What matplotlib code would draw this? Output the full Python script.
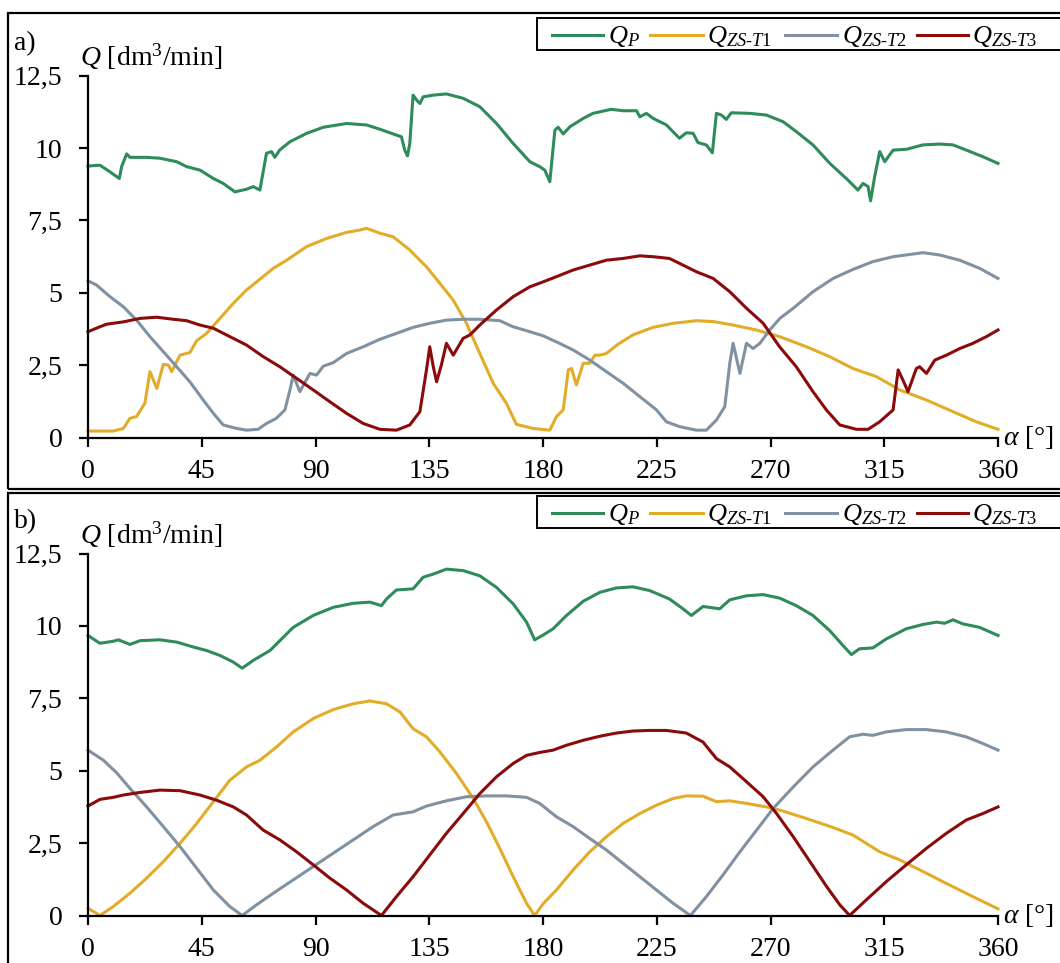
import matplotlib
matplotlib.use("Agg")
import matplotlib.pyplot as plt
from matplotlib.patches import Rectangle
from matplotlib.lines import Line2D

FONT = "Liberation Serif"
plt.rcParams["font.family"] = [FONT, "DejaVu Serif"]
plt.rcParams["mathtext.fontset"] = "custom"
plt.rcParams["mathtext.rm"] = FONT
plt.rcParams["mathtext.it"] = FONT + ":italic"

# ---------------- Panel a) data ----------------
a_p_x = [0, 4.7, 8.7, 12.4, 13.3, 15.3, 16.6, 23.2, 28.5, 35.1, 39, 44.3, 49.6, 53.5, 58.1, 62.7, 65.4, 68,
         70.6, 72.6, 73.9, 75.9, 79.9, 86.5, 93.1, 102.3, 110.2, 115.5, 122, 124, 125.3, 126.4, 127.3, 128.6,
         130, 131.3, 132.6, 136.6, 141.8, 148.4, 155, 161.6, 168.2, 174.8, 178.7, 180.7, 182.7, 184.7, 186,
         188, 190.7, 196, 199.8, 207, 211.7, 217, 218.3, 220.9, 223.5, 228.8, 234, 236.7, 239.4, 241.3, 244.6,
         247, 248.6, 250.6, 252.5, 254.5, 261.8, 268.4, 275, 280.2, 286.8, 293.5, 300, 304.6, 306.6, 308.6,
         309.6, 311.2, 313.2, 315.2, 318.5, 323.8, 330.3, 336.9, 342.2, 347.5, 354.1, 360]
a_p_y = [9.38, 9.41, 9.18, 8.95, 9.36, 9.80, 9.68, 9.68, 9.65, 9.53, 9.36, 9.24, 8.95, 8.78, 8.49, 8.58, 8.67, 8.55,
         9.82, 9.88, 9.68, 9.94, 10.22, 10.51, 10.72, 10.85, 10.80, 10.65, 10.45, 10.39, 9.93, 9.73, 10.16, 11.83,
         11.66, 11.54, 11.77, 11.83, 11.87, 11.72, 11.43, 10.85, 10.16, 9.53, 9.36, 9.24, 8.84, 10.62, 10.72,
         10.49, 10.74, 11.03, 11.20, 11.34, 11.29, 11.29, 11.08, 11.20, 11.03, 10.80, 10.34, 10.53, 10.51, 10.19, 10.11,
         9.84, 11.20, 11.14, 10.99, 11.22, 11.20, 11.14, 10.91, 10.57, 10.11, 9.47, 8.95, 8.55, 8.78, 8.67,
         8.18, 9.01, 9.88, 9.53, 9.93, 9.96, 10.11, 10.14, 10.11, 9.93, 9.70, 9.47]

a_t1_x = [0, 10, 14, 16.6, 19.2, 22.5, 24.5, 27.2, 29.8, 31.8, 33.1, 36.4, 40.3, 43, 46.9, 52.2, 57.5, 62.7, 68,
          73.3, 78.6, 86.5, 94.4, 102.3, 107.5, 110.2, 115.5, 120.7, 127.3, 133.9, 139.2, 144.5, 149.7, 155,
          160.3, 165.5, 169.5, 176.1, 182.7, 185.3, 188, 190, 191.3, 193.2, 195.9, 198.5, 200.5, 202.5, 205.1,
          209.7, 215.6, 223.5, 231.5, 240.7, 247.3, 255.2, 264.4, 273.6, 284.2, 293.4, 302.6, 311.9, 321.1,
          331.7, 342.2, 351.4, 360]
a_t1_y = [0.23, 0.23, 0.32, 0.67, 0.73, 1.19, 2.28, 1.70, 2.53, 2.51, 2.28, 2.85, 2.94, 3.35, 3.60, 4.12, 4.64, 5.10, 5.47,
          5.85, 6.13, 6.60, 6.88, 7.09, 7.17, 7.23, 7.06, 6.94, 6.48, 5.90, 5.33, 4.75, 3.95, 2.91,
          1.88, 1.19, 0.46, 0.32, 0.26, 0.73, 0.96, 2.34, 2.39, 1.82, 2.57, 2.57, 2.85, 2.85, 2.91,
          3.23, 3.55, 3.81, 3.95, 4.04, 4.01, 3.89, 3.72, 3.49, 3.14, 2.80, 2.39, 2.11, 1.65,
          1.30, 0.90, 0.55, 0.29]

a_t2_x = [0, 3.4, 8.7, 14, 19.2, 24.5, 29.8, 35.1, 40.3, 45.6, 49.6, 53.5, 58.8, 62.7, 67.3, 70.6, 74.5, 77.9, 79.9,
          81.2, 83.8, 87.8, 90.4, 93.1, 97, 102.3, 108.9, 115.5, 122, 128.6, 135.2, 141.8, 148.4, 155, 162.9,
          168.2, 174.8, 180, 185.3, 191.9, 198.5, 205.1, 211.7, 218.3, 224.9, 228.8, 234.1, 240.7, 244.6, 248.6,
          251.9, 253.9, 255.2, 257.9, 260.5, 263.1, 265.8, 269.7, 273.7, 279, 286.8, 294.8, 302.6, 310.5,
          318.5, 323.7, 330.3, 336.9, 344.8, 352.7, 360]
a_t2_y = [5.42, 5.27, 4.87, 4.52, 4.06, 3.49, 2.97, 2.45, 1.93, 1.30, 0.84, 0.44, 0.32, 0.26, 0.29, 0.49, 0.67, 0.96, 1.65,
          2.16, 1.59, 2.22, 2.16, 2.47, 2.59, 2.91, 3.14, 3.40, 3.60, 3.81, 3.95, 4.06, 4.09, 4.09, 4.04,
          3.83, 3.66, 3.52, 3.31, 3.03, 2.68, 2.28, 1.88, 1.42, 0.96, 0.55, 0.38, 0.26, 0.26, 0.61,
          1.07, 2.57, 3.26, 2.22, 3.26, 3.08, 3.26, 3.72, 4.12, 4.47, 5.04, 5.50, 5.81, 6.08,
          6.25, 6.31, 6.39, 6.31, 6.13, 5.85, 5.50]

a_t3_x = [0, 4.7, 7.4, 14, 20.6, 27.2, 33.7, 39, 44.3, 49.6, 56.1, 62.7, 69.3, 75.9, 82.5, 89.1, 95.7, 102.3, 108.9,
          115.5, 122, 127.3, 131.3, 133.9, 135.2, 136.6, 137.9, 139.8, 141.8, 144.5, 148.4, 151.1, 155, 161.6,
          168.2, 174.8, 180, 185.3, 191.9, 198.5, 205.1, 211.7, 218.3, 223.5, 230, 234, 240.7, 247.3, 253.9,
          260.5, 267.1, 273.6, 280.2, 286.8, 292.1, 297.4, 304, 308.6, 313.2, 318.5, 320.5, 322.4, 324.4,
          327.7, 329, 331.7, 335, 339.6, 344.9, 350.1, 355.4, 360]
a_t3_y = [3.66, 3.83, 3.92, 4.00, 4.12, 4.16, 4.09, 4.04, 3.89, 3.78, 3.49, 3.20, 2.80, 2.45, 2.05, 1.65, 1.24, 0.84, 0.49,
          0.29, 0.26, 0.44, 0.90, 2.34, 3.14, 2.45, 1.93, 2.51, 3.26, 2.85, 3.43, 3.55, 3.89, 4.41,
          4.87, 5.21, 5.38, 5.56, 5.79, 5.96, 6.13, 6.19, 6.28, 6.25, 6.19, 6.02, 5.73, 5.50, 5.04,
          4.47, 3.95, 3.14, 2.45, 1.59, 0.96, 0.44, 0.29, 0.29, 0.55, 0.96, 2.34, 1.99, 1.59,
          2.39, 2.45, 2.22, 2.68, 2.85, 3.08, 3.26, 3.49, 3.72]

# ---------------- Panel b) data ----------------
b_p_x = [0, 4.7, 10, 12, 16.6, 20.6, 28.5, 35.1, 41.7, 46.9, 52.2, 57.5, 61, 65.4, 68.7, 72, 75.9, 81.2, 89.1, 97,
         104.9, 111.5, 116.1, 118.1, 122, 128.6, 132.6, 136.6, 141.8, 148.4, 155, 161.6, 168.2, 173.5, 176.7,
         180, 184, 189.3, 195.9, 202.5, 209, 215.6, 222.2, 230, 235.4, 238.7, 243.3, 249.9, 253.9, 260.5,
         267.1, 273.6, 280.2, 286.8, 293.4, 298.7, 302, 305.2, 310.5, 315.8, 323.7, 330.3, 335.6, 338.9,
         342.2, 346.1, 352.7, 360]
b_p_y = [9.67, 9.40, 9.47, 9.52, 9.36, 9.49, 9.52, 9.44, 9.27, 9.15, 8.98, 8.75, 8.54, 8.81, 8.98, 9.15, 9.49, 9.95, 10.36, 10.64,
         10.78, 10.82, 10.70, 10.93, 11.24, 11.28, 11.68, 11.79, 11.96, 11.91, 11.73, 11.33, 10.76, 10.13, 9.52,
         9.68, 9.90, 10.36, 10.85, 11.16, 11.31, 11.35, 11.22, 10.93, 10.59, 10.36, 10.67, 10.59, 10.90, 11.04,
         11.08, 10.96, 10.70, 10.36, 9.84, 9.32, 9.01, 9.21, 9.24, 9.55, 9.90, 10.05, 10.13, 10.09,
         10.21, 10.07, 9.95, 9.67]

b_t1_x = [0, 4.7, 10, 16.6, 23.2, 29.8, 36.4, 43, 49.6, 56.1, 62.7, 68, 74.6, 81.2, 89.1, 97, 104.9, 111.5, 118.1,
          123.4, 128.6, 133.9, 139.2, 145.8, 152.4, 157.6, 162.9, 168.2, 173.5, 176.7, 180, 185.3, 191.9,
          198.5, 205.1, 211.7, 218.3, 224.9, 231.5, 236.7, 243.3, 248.6, 253.9, 260.5, 268.4, 273.6, 284.2,
          294.7, 302.6, 307.9, 313.2, 321.1, 330.3, 339.5, 350.1, 360]
b_t1_y = [0.25, 0.0, 0.31, 0.77, 1.29, 1.86, 2.49, 3.18, 3.93, 4.67, 5.13, 5.36, 5.82, 6.34, 6.80, 7.11, 7.31, 7.41, 7.31,
          7.03, 6.45, 6.17, 5.65, 4.90, 4.04, 3.24, 2.32, 1.34, 0.42, 0.0, 0.40, 0.88, 1.57,
          2.20, 2.72, 3.18, 3.52, 3.81, 4.04, 4.13, 4.12, 3.93, 3.96, 3.87, 3.75, 3.64, 3.35,
          3.04, 2.78, 2.49, 2.20, 1.92, 1.52, 1.11, 0.65, 0.23]

b_t2_x = [0, 6.1, 11.3, 16.6, 23.2, 29.8, 36.4, 43, 49.6, 56.1, 61, 66.7, 73.3, 81.2, 89.1, 97, 104.9, 112.8, 120.7,
          128.6, 133.9, 141.8, 149.7, 157.6, 165.5, 173.5, 178.7, 185.3, 191.9, 198.5, 205.1, 211.7, 218.3,
          224.9, 231.5, 238.3, 244.6, 251.2, 257.9, 264.5, 271.1, 279, 286.8, 294.7, 301.3, 306.6, 310.5,
          315.8, 323.7, 331.6, 339.5, 347.4, 354, 360]
b_t2_y = [5.71, 5.36, 4.93, 4.39, 3.75, 3.07, 2.38, 1.63, 0.88, 0.31, 0.0, 0.37, 0.77, 1.23, 1.69, 2.15, 2.61, 3.07, 3.47,
          3.58, 3.78, 3.96, 4.10, 4.13, 4.13, 4.08, 3.87, 3.41, 3.07, 2.66, 2.26, 1.80, 1.34,
          0.88, 0.42, 0.0, 0.65, 1.40, 2.20, 2.95, 3.70, 4.44, 5.13, 5.71, 6.17, 6.26, 6.22,
          6.34, 6.42, 6.42, 6.34, 6.17, 5.94, 5.71]

b_t3_x = [0, 4.7, 10, 14, 20.6, 28.5, 36.4, 44.3, 50.9, 57.5, 62.7, 69.3, 75.9, 82.5, 89.1, 95.7, 102.3, 108.9,
          116.1, 122, 128.6, 135.2, 141.8, 148.4, 155, 161.6, 168.2, 173.5, 178.7, 184, 189.3, 195.9, 202.5,
          209, 215.6, 222.2, 228.8, 236.7, 243.3, 248.6, 253.9, 260.5, 267.1, 272.4, 279, 285.6, 292.2,
          297.4, 301.3, 307.9, 315.8, 323.7, 331.7, 339.6, 347.5, 354, 360]
b_t3_y = [3.78, 4.01, 4.08, 4.16, 4.25, 4.33, 4.31, 4.16, 3.98, 3.75, 3.47, 2.95, 2.61, 2.20, 1.75, 1.29, 0.88, 0.42,
          0.0, 0.65, 1.34, 2.09, 2.84, 3.52, 4.21, 4.79, 5.25, 5.53, 5.63, 5.71, 5.88, 6.05, 6.19,
          6.30, 6.37, 6.39, 6.39, 6.30, 5.99, 5.42, 5.13, 4.62, 4.10, 3.52, 2.72, 1.86, 1.00,
          0.37, 0.0, 0.54, 1.17, 1.75, 2.32, 2.84, 3.30, 3.52, 3.75]

x_ticks = [0, 45, 90, 135, 180, 225, 270, 315, 360]
y_ticks = [0, 2.5, 5, 7.5, 10, 12.5]
y_tick_labels = ["0", "2,5", "5", "7,5", "10", "12,5"]

series_labels = [r"$Q_P$", r"$Q_{\mathit{ZS}\text{-}\mathit{T1}}$",
                 r"$Q_{\mathit{ZS}\text{-}\mathit{T2}}$", r"$Q_{\mathit{ZS}\text{-}\mathit{T3}}$"]
colors = ["#2E8B5A", "#E3AC28", "#8092A2", "#8B0A0A"]

W, H = 1060, 963
fig = plt.figure(figsize=(W / 100, H / 100), dpi=100)


def fx(px):
    return px / W


def fy(py):
    return 1 - py / H


# panel frames
fig.patches.append(Rectangle((fx(8), fy(489)), fx(1070 - 8), fy(13) - fy(489), transform=fig.transFigure,
                             fill=False, edgecolor="black", linewidth=1.6, zorder=0))
fig.patches.append(Rectangle((fx(8), fy(980)), fx(1070 - 8), fy(493) - fy(980), transform=fig.transFigure,
                             fill=False, edgecolor="black", linewidth=1.6, zorder=0))

panels = [
    ("a)", 0, [(a_p_x, a_p_y), (a_t1_x, a_t1_y), (a_t2_x, a_t2_y), (a_t3_x, a_t3_y)]),
    ("b)", 477.8, [(b_p_x, b_p_y), (b_t1_x, b_t1_y), (b_t2_x, b_t2_y), (b_t3_x, b_t3_y)]),
]

# legend entry layout (pixels): handle start, handle end, text start
leg_handles = [(552, 603, 608), (650, 703, 707), (785, 837, 842), (917, 968, 972)]

FS = 20
for tag, off, data in panels:
    top = 75.7 + off
    bot = 437.7 + off
    ax = fig.add_axes([fx(88), fy(bot), fx(998 - 88), fy(top) - fy(bot)])
    for (xs, ys), c in zip(data, colors):
        ax.plot(xs, ys, color=c, lw=2.2, clip_on=False, solid_joinstyle="round")
    ax.set_xlim(0, 360)
    ax.set_ylim(0, 12.5)
    ax.set_xticks(x_ticks)
    ax.set_yticks(y_ticks)
    ax.set_yticklabels(y_tick_labels)
    for s in ["top", "right"]:
        ax.spines[s].set_visible(False)
    for s in ["left", "bottom"]:
        ax.spines[s].set_linewidth(1.6)
        ax.spines[s].set_color("black")
    ax.tick_params(axis="both", direction="out", length=6.5, width=1.6, labelsize=FS, colors="black")
    ax.tick_params(axis="y", pad=12)
    ax.tick_params(axis="x", pad=9)
    ax.patch.set_visible(False)
    # axis titles
    fig.text(fx(80), fy(57 + off), r"$Q$ [dm$^3$/min]", fontsize=FS, ha="left", va="center")
    ax.text(1.006, 0, r"$\alpha$ [°]", transform=ax.transAxes, fontsize=FS, ha="left", va="center")
    fig.text(fx(14), fy(44 + off), tag, fontsize=FS, ha="left", va="center")
    # legend (frame + entries)
    fig.patches.append(Rectangle((fx(537), fy(50.5 + off)), fx(1075 - 537), fy(18 + off) - fy(50.5 + off),
                                 transform=fig.transFigure, fill=True, facecolor="white",
                                 edgecolor="black", linewidth=1.4, zorder=5))
    for (h0, h1, t0), c, lab in zip(leg_handles, colors, series_labels):
        fig.lines.append(Line2D([fx(h0), fx(h1)], [fy(35 + off), fy(35 + off)], transform=fig.transFigure,
                                color=c, lw=2.2, zorder=6))
        fig.text(fx(t0), fy(43 + off), lab, fontsize=FS - 1, ha="left", va="baseline", zorder=7)

fig.savefig("out.png", dpi=100)
